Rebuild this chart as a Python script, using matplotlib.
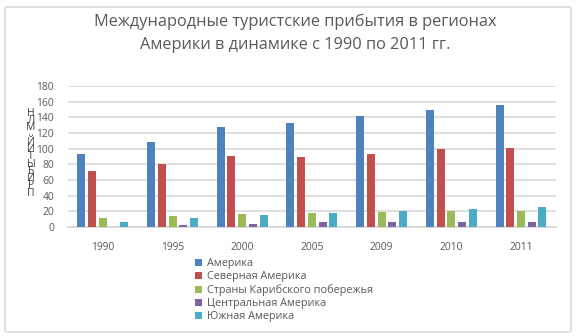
import numpy as np
import matplotlib.pyplot as plt
from matplotlib.patches import FancyBboxPatch

plt.rcParams['font.family'] = ['Open Sans', 'DejaVu Sans']

# Tourist arrivals, million
years = ['1990', '1995', '2000', '2005', '2009', '2010', '2011']
america = [93, 109, 128, 133, 142, 150, 156]
north_america = [72, 80, 91, 90, 93, 99, 101]
caribbean = [11, 14, 16, 18, 19, 20, 20]
central_america = [np.nan, 2, 3.5, 6, 6, 7, 7]
south_america = [7, 11, 15, 18, 21, 23, 25]

series = [america, north_america, caribbean, central_america, south_america]
names = ['Америка', 'Северная Америка', 'Страны Карибского побережья',
         'Центральная Америка', 'Южная Америка']
colors = ['#4F81BD', '#C0504D', '#9BBB59', '#8064A2', '#4BACC6']

text_gray = '#595959'
grid_gray = '#D9D9D9'

fig = plt.figure(figsize=(5.76, 3.36), dpi=100)
ax = fig.add_axes([0.118, 0.3244, 0.847, 0.4196])

x = np.arange(len(years))
width = 0.115
step = 0.154
bars = []
for i, (vals, name, c) in enumerate(zip(series, names, colors)):
    b = ax.bar(x + (i - 2) * step, vals, width, color=c, label=name, zorder=3)
    bars.append(b)

ax.set_xlim(-0.5, len(years) - 0.5)
ax.set_ylim(0, 180)
ax.set_yticks(np.arange(0, 181, 20))
ax.set_xticks(x)
ax.set_xticklabels(years)
ax.tick_params(axis='both', length=0, labelsize=7.4, colors=text_gray)
ax.tick_params(axis='y', pad=10)
ax.tick_params(axis='x', pad=11)
ax.yaxis.grid(True, color=grid_gray, linewidth=1.2, zorder=0)
for s in ['top', 'right', 'left']:
    ax.spines[s].set_visible(False)
ax.spines['bottom'].set_color(grid_gray)
ax.spines['bottom'].set_linewidth(1.4)

# Title
fig.text(0.512, 1 - 22 / 336, 'Международные туристские прибытия в регионах',
         ha='center', va='center', fontsize=11.8, color=text_gray)
fig.text(0.512, 1 - 45 / 336, 'Америки в динамике с 1990 по 2011 гг.',
         ha='center', va='center', fontsize=11.8, color=text_gray)

# Stacked axis caption
caption = 'НЛМ ЙИТЫБИРП'
for k, ch in enumerate(caption):
    fig.text(31 / 576, 1 - (113 + k * 7.3) / 336, ch, ha='center', va='center',
             fontsize=7.5, color='#404040')

fig.legend(handles=bars, labels=names, loc='upper left',
           bbox_to_anchor=(195 / 576, 1 - 258 / 336), frameon=False,
           fontsize=7.8, labelcolor=text_gray, handlelength=0.65,
           handleheight=0.65, handletextpad=0.45, labelspacing=0.2,
           borderpad=0, borderaxespad=0)

# Outer frame
frame = FancyBboxPatch((5 / 576, 4 / 336), 566 / 576, 325 / 336,
                       boxstyle='round,pad=0,rounding_size=0.005',
                       transform=fig.transFigure, facecolor='none',
                       edgecolor=grid_gray, linewidth=1.2)
fig.patches.append(frame)

fig.savefig('out.png', dpi=100)
